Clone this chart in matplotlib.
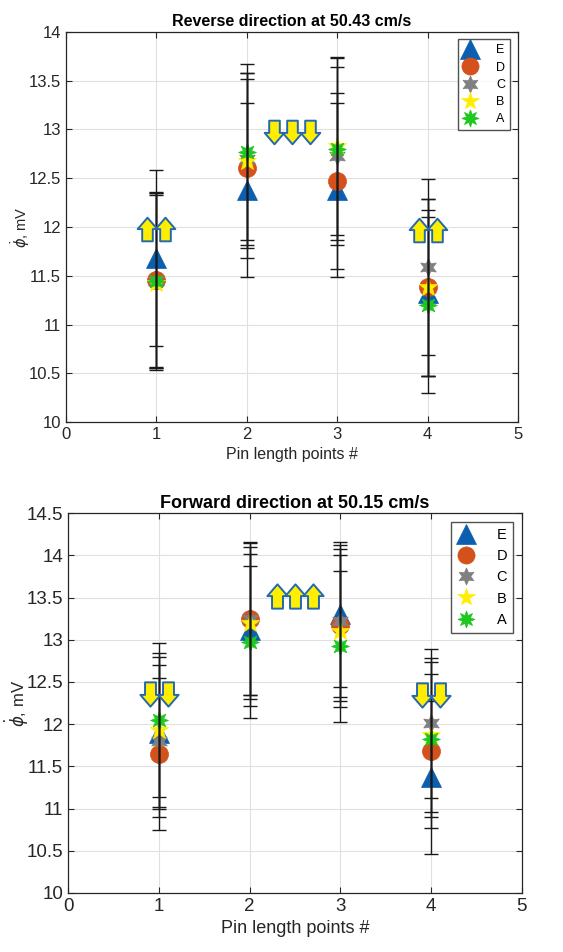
import numpy as np
import matplotlib.pyplot as plt
from matplotlib.path import Path

plt.rcParams['font.family'] = ['Liberation Sans', 'DejaVu Sans']
plt.rcParams['mathtext.fontset'] = 'dejavusans'

# pin length points
x = [1, 2, 3, 4]
labels = ['E', 'D', 'C', 'B', 'A']

# reverse direction at 50.43 cm/s
rev_E = [11.68, 12.38, 12.38, 11.32]
rev_D = [11.46, 12.60, 12.47, 11.38]
rev_C = [11.45, 12.70, 12.73, 11.59]
rev_B = [11.43, 12.68, 12.83, 11.38]
rev_A = [11.45, 12.77, 12.80, 11.20]
rev_err_E = [0.90, 0.89, 0.89, 0.85]
rev_err_D = [0.90, 0.92, 0.90, 0.91]
rev_err_C = [0.90, 0.88, 0.91, 0.90]
rev_err_B = [0.90, 0.90, 0.91, 0.91]
rev_err_A = [0.90, 0.90, 0.93, 0.90]

# forward direction at 50.15 cm/s
fwd_E = [11.90, 13.12, 13.30, 11.37]
fwd_D = [11.65, 13.25, 13.18, 11.68]
fwd_C = [11.80, 13.25, 13.22, 12.01]
fwd_B = [11.93, 13.20, 13.10, 11.87]
fwd_A = [12.05, 12.97, 12.92, 11.82]
fwd_err_E = [0.90, 0.90, 0.86, 0.91]
fwd_err_D = [0.90, 0.90, 0.90, 0.91]
fwd_err_C = [0.90, 0.91, 0.90, 0.88]
fwd_err_B = [0.91, 0.90, 0.90, 0.91]
fwd_err_A = [0.91, 0.90, 0.90, 0.92]

# arrow annotations (x, y)
rev_up_x = [0.9, 1.1, 3.9, 4.1]
rev_up_y = [11.98, 11.98, 11.97, 11.97]
rev_down_x = [2.3, 2.5, 2.7]
rev_down_y = [12.97, 12.97, 12.97]
fwd_up_x = [2.3, 2.5, 2.7]
fwd_up_y = [13.52, 13.52, 13.52]
fwd_down_x = [0.9, 1.1, 3.9, 4.1]
fwd_down_y = [12.36, 12.36, 12.35, 12.35]

colors = ['#0b5fae', '#d4511b', '#808080', '#ffee00', '#1ec81e']
markers = ['^', 'o', (6, 1, 0), '*', (8, 1, 0)]
msizes = [14.5, 13, 13, 14, 13]

# block arrow marker
up_verts = [(-0.27, -0.6), (0.27, -0.6), (0.27, 0.02), (0.5, 0.02),
            (0.0, 0.6), (-0.5, 0.02), (-0.27, 0.02), (-0.27, -0.6)]
up_arrow = Path(up_verts, closed=True)
down_arrow = Path([(vx, -vy) for vx, vy in up_verts], closed=True)


def panel(ax, title, vals, errs, ylim, ups, downs, fs, arrow_ms, lspace):
    for i in range(5):
        ax.plot(x, vals[i], linestyle='none', marker=markers[i],
                color=colors[i], markersize=msizes[i], markeredgewidth=0.5,
                label=labels[i], zorder=3)
    for i in range(5):
        ax.errorbar(x, vals[i], yerr=errs[i], fmt='none', ecolor='#1a1a1a',
                    elinewidth=1.0, capsize=5, capthick=1.0, zorder=4)
    for ax_, ay_ in zip(*ups):
        ax.plot(ax_, ay_, linestyle='none', marker=up_arrow, markersize=arrow_ms,
                markerfacecolor='#ffee00', markeredgecolor='#2368b0',
                markeredgewidth=1.4, zorder=5)
    for ax_, ay_ in zip(*downs):
        ax.plot(ax_, ay_, linestyle='none', marker=down_arrow, markersize=arrow_ms,
                markerfacecolor='#ffee00', markeredgecolor='#2368b0',
                markeredgewidth=1.4, zorder=5)
    ax.set_xlim(0, 5)
    ax.set_ylim(*ylim)
    ax.set_xticks(range(6))
    yt = np.arange(ylim[0], ylim[1] + 0.01, 0.5)
    ax.set_yticks(yt)
    ax.set_yticklabels([f'{v:g}' for v in yt])
    ax.grid(True, color='#e0e0e0', linewidth=0.8)
    ax.set_axisbelow(True)
    ax.tick_params(direction='in', top=True, right=True, labelsize=fs,
                   colors='#262626', length=4)
    for s in ax.spines.values():
        s.set_color('#262626')
        s.set_linewidth(0.9)
    ax.set_title(title, fontsize=fs - 0.5, fontweight='bold', pad=4)
    ax.set_xlabel('Pin length points #', fontsize=fs - 0.5, color='#262626')
    ax.set_ylabel(r'$\dot{\phi}$, mV', fontsize=fs - 1.5, color='#262626')
    leg = ax.legend(loc='upper right', fontsize=fs - 3, frameon=True,
                    fancybox=False, edgecolor='#262626',
                    handletextpad=1.5, labelspacing=lspace, borderpad=0.4,
                    handlelength=1.2, markerscale=0.95, borderaxespad=0.6)
    leg.get_frame().set_linewidth(1.0)


fig = plt.figure(figsize=(5.63, 9.52), dpi=100)
ax1 = fig.add_axes([0.117, 0.5567, 0.803, 0.4097])
ax2 = fig.add_axes([0.1208, 0.062, 0.806, 0.399])

panel(ax1, 'Reverse direction at 50.43 cm/s',
      [rev_E, rev_D, rev_C, rev_B, rev_A],
      [rev_err_E, rev_err_D, rev_err_C, rev_err_B, rev_err_A],
      (10, 14), (rev_up_x, rev_up_y), (rev_down_x, rev_down_y), 12, 17, 0.42)
panel(ax2, 'Forward direction at 50.15 cm/s',
      [fwd_E, fwd_D, fwd_C, fwd_B, fwd_A],
      [fwd_err_E, fwd_err_D, fwd_err_C, fwd_err_B, fwd_err_A],
      (10, 14.5), (fwd_up_x, fwd_up_y), (fwd_down_x, fwd_down_y), 13.5, 17.5, 0.5)

ax1.yaxis.set_label_coords(-0.076, 0.5)
ax2.yaxis.set_label_coords(-0.082, 0.5)

fig.savefig('out.png', dpi=100)
